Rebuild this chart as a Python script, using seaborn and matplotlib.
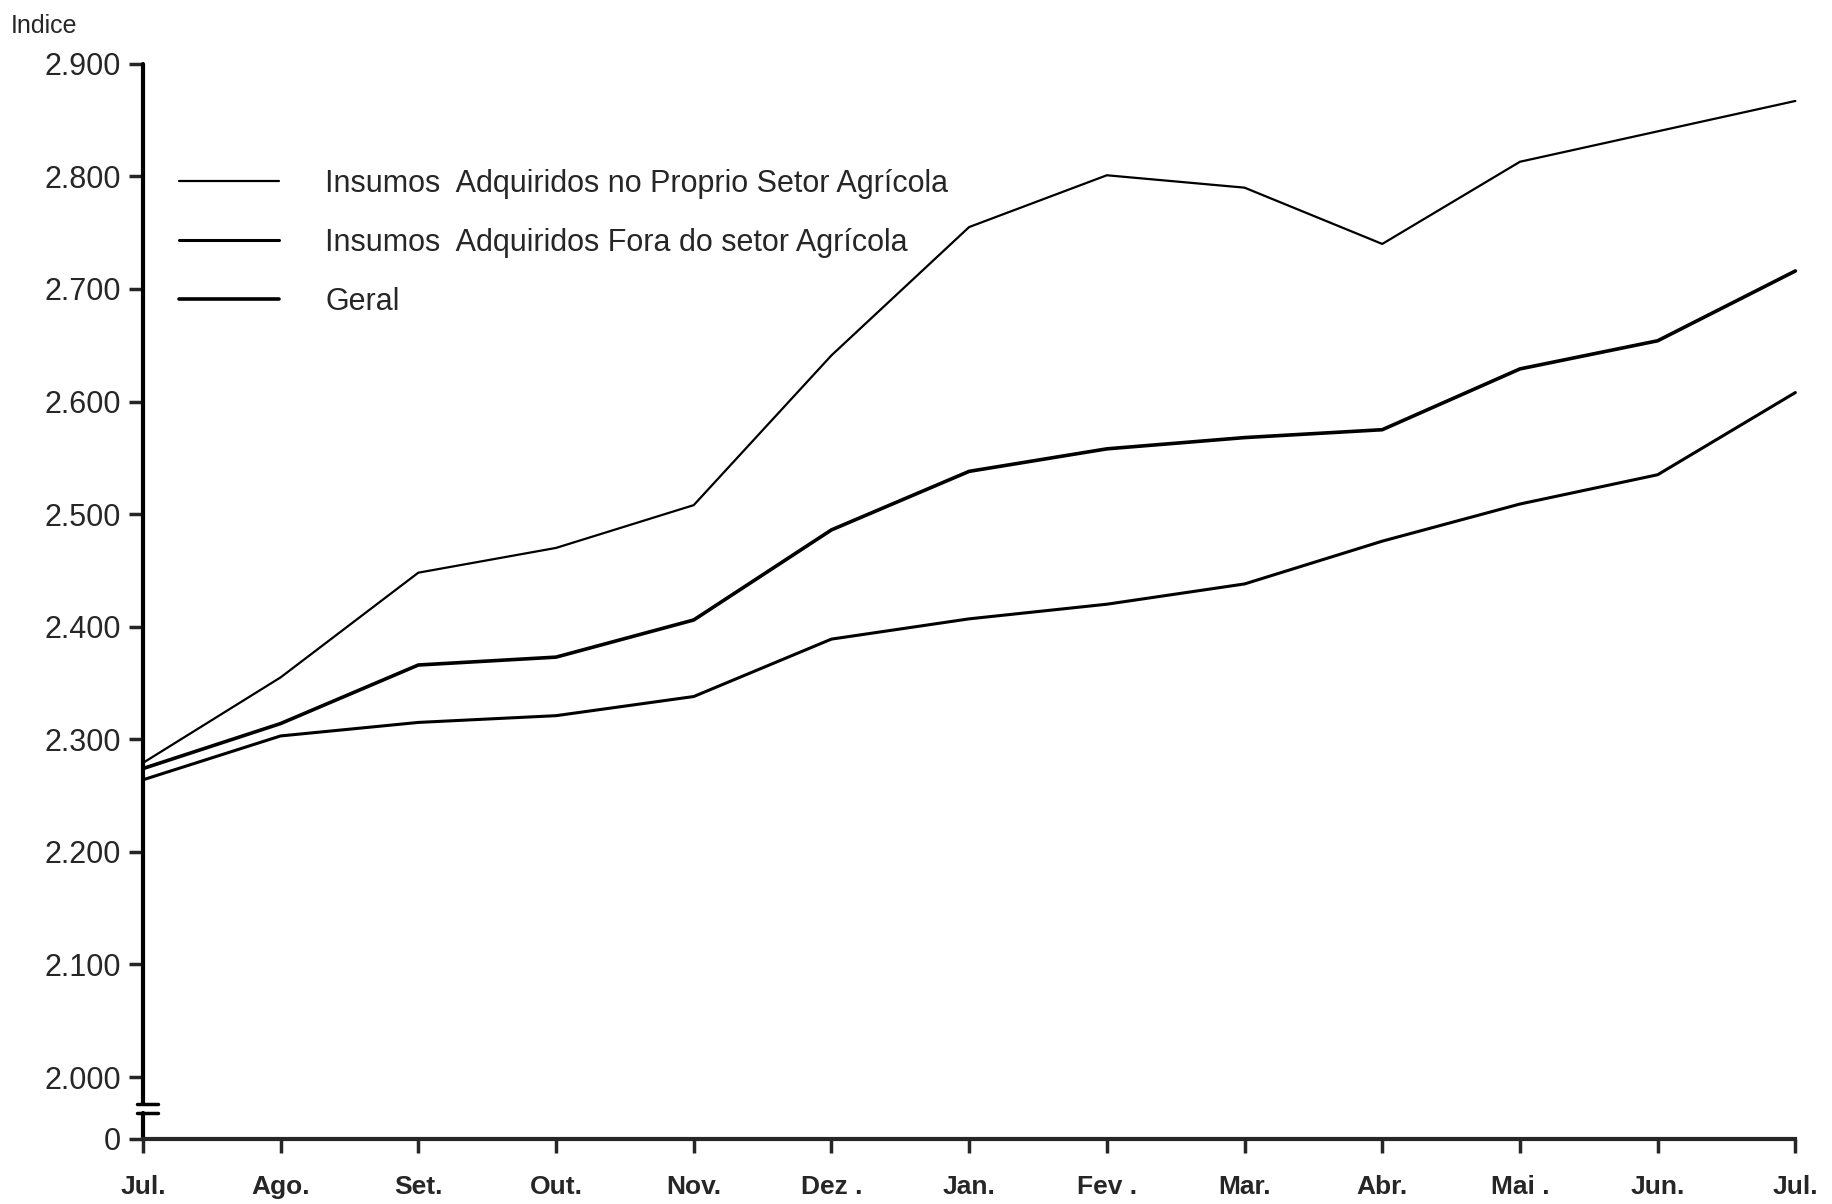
import numpy as np
import pandas as pd
import matplotlib
matplotlib.use("Agg")
import matplotlib.pyplot as plt
import seaborn as sns

# month labels (Jul. -> Jul.)
months = ["Jul.", "Ago.", "Set.", "Out.", "Nov.", "Dez .", "Jan.", "Fev .",
          "Mar.", "Abr.", "Mai .", "Jun.", "Jul."]

# index values
proprio = [2279, 2355, 2448, 2470, 2508, 2641, 2755, 2801, 2790, 2740, 2813, 2840, 2867]
geral = [2274, 2314, 2366, 2373, 2406, 2486, 2538, 2558, 2568, 2575, 2629, 2654, 2716]
fora = [2264, 2303, 2315, 2321, 2338, 2389, 2407, 2420, 2438, 2476, 2509, 2535, 2608]

series_names = ["Insumos  Adquiridos no Proprio Setor Agrícola",
                "Insumos  Adquiridos Fora do setor Agrícola",
                "Geral"]

ytick_vals = list(range(2000, 2901, 100))
ytick_labels = ["2.000", "2.100", "2.200", "2.300", "2.400", "2.500",
                "2.600", "2.700", "2.800", "2.900"]

# position where the "0" of the broken axis sits
ZERO_POS = 1945
BREAK_LO, BREAK_HI = 1968, 1976

sns.set_style("ticks")
plt.rcParams["font.family"] = ["Liberation Sans", "DejaVu Sans"]

fig = plt.figure(figsize=(18.32, 12.04), dpi=100)
ax = fig.add_axes([0.078, 0.054, 0.902, 0.893])

x = np.arange(len(months))
df = pd.DataFrame({
    "mes": np.tile(x, 3),
    "indice": proprio + fora + geral,
    "serie": np.repeat(series_names, len(months)),
})

widths = {series_names[0]: 1.6, series_names[1]: 2.2, series_names[2]: 2.6}
for name in series_names:
    sub = df[df["serie"] == name]
    sns.lineplot(data=sub, x="mes", y="indice", ax=ax, color="black",
                 linewidth=widths[name], label=name, clip_on=False)

ax.set_xlim(0, len(months) - 1)
ax.set_ylim(ZERO_POS, 2900)
ax.set_xticks(x)
ax.set_xticklabels(months, fontsize=19, fontweight="bold")
ax.set_yticks([ZERO_POS] + ytick_vals)
ax.set_yticklabels(["0"] + ytick_labels, fontsize=22)
ax.set_xlabel("")
ax.set_ylabel("")

ax.tick_params(axis="x", direction="out", length=10, width=2.5, pad=16)
ax.tick_params(axis="y", direction="out", length=10, width=2.5, pad=6)

sns.despine(ax=ax, top=True, right=True)
ax.spines["left"].set_visible(False)
ax.spines["bottom"].set_linewidth(3)

# left axis drawn in two pieces with a break
ax.plot([0, 0], [ZERO_POS, BREAK_LO], color="black", lw=3, clip_on=False)
ax.plot([0, 0], [BREAK_HI, 2900], color="black", lw=3, clip_on=False)
for yb in (BREAK_LO, BREAK_HI):
    ax.plot([-0.04, 0.11], [yb, yb], color="black", lw=2.5, clip_on=False)

leg = ax.legend(loc="upper left", bbox_to_anchor=(0.005, 0.928), frameon=False,
                fontsize=22, handlelength=3.3, handletextpad=1.5,
                labelspacing=0.95)
for line in leg.get_lines():
    line.set_color("black")

fig.text(0.006, 0.988, "Indice", fontsize=18, va="top", ha="left")

fig.savefig("out.png", dpi=100)
